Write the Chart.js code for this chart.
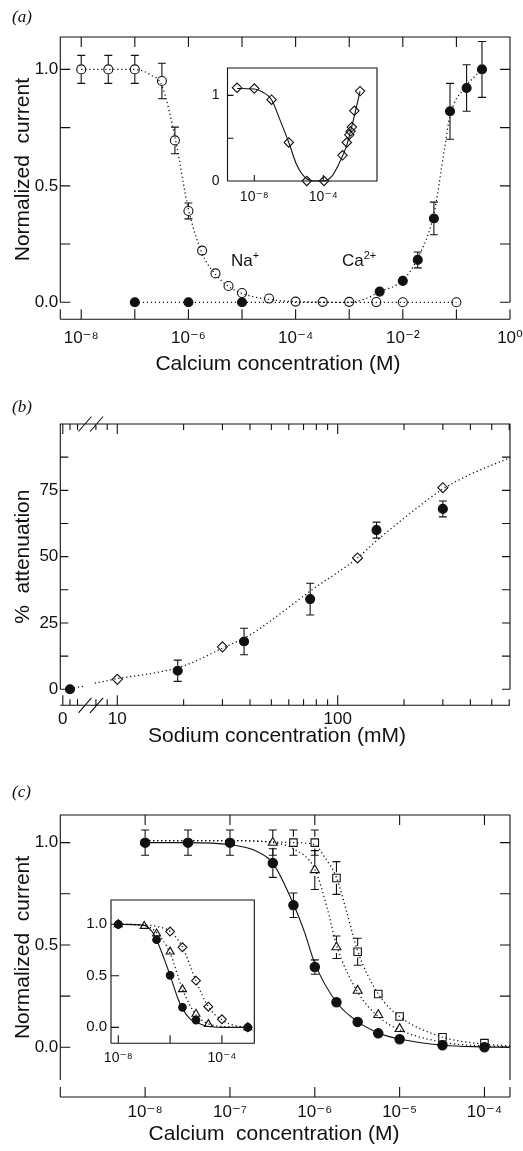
<!DOCTYPE html>
<html>
<head>
<meta charset="utf-8">
<title>Calcium block of sodium current</title>
<script src="https://cdn.jsdelivr.net/npm/chart.js@4.4.1/dist/chart.umd.min.js"></script>
<style>
  html, body { margin: 0; padding: 0; background: #fff; }
  #fig { position: relative; width: 523px; height: 1151px; overflow: hidden; color: #111;
         font-family: "Liberation Sans", Arial, Helvetica, sans-serif; }
  #fig canvas { position: absolute; }
  .tag { position: absolute; left: 12px; font: italic 17px "Liberation Serif", "DejaVu Serif", serif; line-height: 17px; }
  .ion { position: absolute; font-size: 17px; line-height: 17px; white-space: nowrap; }
  .ion sup { font-size: 11px; line-height: 0; vertical-align: 7px; }
  .xtitle { position: absolute; width: 320px; text-align: center; font-size: 21px; line-height: 21px; white-space: pre; }
</style>
</head>
<body>
<div id="fig">
  <canvas id="chartA" width="523" height="380" style="left:0;top:0"></canvas>
  <canvas id="chartB" width="523" height="370" style="left:0;top:380px"></canvas>
  <canvas id="chartC" width="523" height="401" style="left:0;top:750px"></canvas>
  <canvas id="insetA" width="195" height="155" style="left:190px;top:60px"></canvas>
  <canvas id="insetC" width="195" height="185" style="left:70px;top:890px"></canvas>
  <div class="tag" style="top:8px">(a)</div>
  <div class="tag" style="top:398px">(b)</div>
  <div class="tag" style="top:783px">(c)</div>
  <div class="ion" style="left:231px;top:252px">Na<sup>+</sup></div>
  <div class="ion" style="left:342px;top:252px">Ca<sup>2+</sup></div>
  <div class="xtitle" style="left:118px;top:352px">Calcium concentration (M)</div>
  <div class="xtitle" style="left:117px;top:724px">Sodium concentration (mM)</div>
  <div class="xtitle" style="left:114px;top:1122px">Calcium  concentration (M)</div>
</div>
<script>
const INK = '#111';
const SANS = '"Liberation Sans", Arial, Helvetica, "DejaVu Sans", sans-serif';

// ---- (a) Na+ current vs Ca (open) and Ca2+ current (filled) ----
const naConc    = [1e-8, 3.2e-8, 1e-7, 3.2e-7, 5.6e-7, 1e-6, 1.8e-6, 3.2e-6, 5.6e-6, 1e-5, 3.2e-5, 1e-4, 3.2e-4, 1e-3, 3.2e-3, 1e-2, 1e-1];
const naCurrent = [1.0, 1.0, 1.0, 0.95, 0.695, 0.392, 0.222, 0.124, 0.07, 0.04, 0.016, 0.003, 0.002, 0.002, 0.001, 0.0, 0.0];
const naError   = [0.06, 0.06, 0.06, 0.076, 0.057, 0.034, 0, 0, 0, 0, 0, 0, 0, 0, 0, 0, 0];
const naFitConc = [1e-8, 1e-7, 2e-7, 3.2e-7, 5.6e-7, 1e-6, 1.8e-6, 3.2e-6, 5.6e-6, 1e-5, 3.2e-5, 1e-4, 1e-3, 1e-1];
const naFitCurrent = [1.0, 1.0, 0.975, 0.93, 0.71, 0.40, 0.21, 0.12, 0.068, 0.038, 0.012, 0.003, 0.0, 0.0];

const caConc    = [1e-7, 1e-6, 1e-5, 3.7e-3, 1e-2, 1.9e-2, 3.8e-2, 7.6e-2, 0.155, 0.3];
const caCurrent = [0, 0, 0, 0.046, 0.092, 0.182, 0.36, 0.82, 0.92, 1.0];
const caError   = [0, 0, 0, 0, 0, 0.034, 0.07, 0.12, 0.1, 0.12];
const caFitConc = [1e-7, 1e-3, 2e-3, 3.7e-3, 1e-2, 1.9e-2, 3.8e-2, 6e-2, 7.6e-2, 0.155, 0.3];
const caFitCurrent = [0, 0, 0.015, 0.045, 0.095, 0.19, 0.38, 0.66, 0.8, 0.93, 1.0];

const aXTicks  = [4.07e-9, 1e-8, 1e-7, 1e-6, 1e-5, 1e-4, 1e-3, 1e-2, 1e-1, 1];
const aXLabels = ['', '10⁻⁸', '', '10⁻⁶', '', '10⁻⁴', '', '10⁻²', '', '10⁰'];
const aYTicks  = [0, 0.25, 0.5, 0.75, 1.0];
const aYLabels = ['0.0', '', '0.5', '', '1.0'];

// inset of (a)
const insetConc    = [1e-9, 1e-8, 1e-7, 1e-6, 1.1e-5, 1.1e-4, 1.3e-3, 2.3e-3, 3.2e-3, 3.8e-3, 4.5e-3, 6.3e-3, 1.35e-2];
const insetCurrent = [1.09, 1.08, 0.95, 0.45, 0, 0, 0.3, 0.45, 0.54, 0.58, 0.63, 0.82, 1.05];
const insetFitConc    = [1e-9, 1e-8, 3e-8, 1e-7, 3e-7, 1e-6, 3e-6, 1e-5, 3e-5, 1e-4, 3e-4, 1e-3, 2.3e-3, 4e-3, 7e-3, 1.35e-2];
const insetFitCurrent = [1.08, 1.075, 1.04, 0.95, 0.72, 0.45, 0.18, 0.03, 0, 0, 0.05, 0.24, 0.42, 0.6, 0.8, 1.05];
const iaXTicks  = [1e-8, 1e-4];
const iaXLabels = ['10⁻⁸', '10⁻⁴'];
const iaYTicks  = [0, 0.5, 1];
const iaYLabels = ['0', '', '1'];

// ---- (b) attenuation vs sodium ----
const ZERO_AT = 6.1;   // where "0 mM" sits left of the axis break
const bConc   = [ZERO_AT, 18.8, 37.6, 75, 150, 300];
const bAtten  = [0, 7, 18, 34, 60, 68];
const bError  = [0, 4, 5, 6, 3, 3];
const bDiaConc  = [10, 30, 123, 300];
const bDiaAtten = [3.75, 16, 49.5, 76];
const bFit1Conc  = [ZERO_AT, 7.1];
const bFit1Atten = [0.3, 1.2];
const bFit2Conc  = [7.9, 10, 15, 20, 30, 40, 50, 75, 123, 150, 200, 300, 400, 605];
const bFit2Atten = [2.3, 4, 6.3, 8.8, 15.5, 20.5, 26, 37, 49.5, 56, 64.5, 75.5, 81, 87.3];
const bXTicks  = [5.66, ZERO_AT, 6.6, 8, 9, 10, 20, 30, 40, 50, 60, 70, 80, 90, 100, 200, 300, 400, 500, 600];
const bXLabels = ['0', '', '', '', '', '10', '', '', '', '', '', '', '', '', '100', '', '', '', '', ''];
const bYTicks  = [0, 12.5, 25, 37.5, 50, 62.5, 75, 87.5, 100];
const bYLabels = ['0', '', '25', '', '50', '', '75', '', ''];

// ---- (c) three conditions ----
const cConc   = [1e-8, 3.2e-8, 1e-7, 3.2e-7, 5.6e-7, 1e-6, 1.8e-6, 3.2e-6, 5.6e-6, 1e-5, 3.2e-5, 1e-4];
const cFilled = [1.0, 1.0, 1.0, 0.9, 0.694, 0.392, 0.22, 0.124, 0.068, 0.039, 0.01, 0.0];
const cFilledErr = [0.062, 0.062, 0.062, 0.07, 0.06, 0.035, 0, 0, 0, 0, 0, 0];
const cTriConc = [3.2e-7, 1e-6, 1.8e-6, 3.2e-6, 5.6e-6, 1e-5];
const cTri     = [1.0, 0.866, 0.489, 0.277, 0.158, 0.09];
const cTriErr  = [0.062, 0.095, 0.055, 0, 0, 0];
const cSqConc  = [5.6e-7, 1e-6, 1.8e-6, 3.2e-6, 5.6e-6, 1e-5, 3.2e-5, 1e-4];
const cSq      = [1.0, 1.0, 0.827, 0.467, 0.26, 0.15, 0.049, 0.02];
const cSqErr   = [0.062, 0.062, 0.08, 0.066, 0, 0, 0, 0];
const cFilledFitConc = [1e-8, 3.2e-8, 1e-7, 2e-7, 3.2e-7, 5.6e-7, 7.6e-7, 1e-6, 1.8e-6, 3.2e-6, 5.6e-6, 1e-5, 3.2e-5, 1e-4, 2e-4];
const cFilledFit     = [1.0, 1.0, 0.99, 0.96, 0.9, 0.7, 0.56, 0.41, 0.22, 0.125, 0.07, 0.04, 0.01, 0.002, 0.0];
const cTriFitConc = [1e-8, 1e-7, 3.2e-7, 5.6e-7, 1e-6, 1.4e-6, 1.8e-6, 3.2e-6, 5.6e-6, 1e-5, 3.2e-5, 1e-4, 2e-4];
const cTriFit     = [1.01, 1.01, 1.0, 0.97, 0.87, 0.68, 0.5, 0.27, 0.15, 0.085, 0.025, 0.006, 0.003];
const cSqFitConc  = [1e-8, 1e-7, 5.6e-7, 1e-6, 1.3e-6, 1.8e-6, 2.4e-6, 3.2e-6, 5.6e-6, 1e-5, 3.2e-5, 1e-4, 2e-4];
const cSqFit      = [1.01, 1.01, 1.0, 0.99, 0.93, 0.83, 0.655, 0.47, 0.26, 0.15, 0.05, 0.015, 0.007];
const cXTicks  = [1e-9, 1e-8, 1e-7, 1e-6, 1e-5, 1e-4, 2e-4];
const cXLabels = ['', '10⁻⁸', '10⁻⁷', '10⁻⁶', '10⁻⁵', '10⁻⁴', ''];
const cYTicks  = [0, 0.25, 0.5, 0.75, 1.0];
const cYLabels = ['0.0', '', '0.5', '', '1.0'];

// inset of (c)
const icConc  = [1e-8, 3e-7, 1e-6, 3e-6, 1e-5, 1e-3];
const icVal   = [1.0, 0.85, 0.505, 0.194, 0.07, 0.0];
const itConc  = [1e-8, 1e-7, 3e-7, 1e-6, 3e-6, 1e-5, 3e-5, 1e-3];
const itVal   = [1.0, 0.983, 0.91, 0.734, 0.369, 0.13, 0.03, 0.0];
const idConc  = [1e-8, 1e-6, 3e-6, 1e-5, 3e-5, 1e-4, 1e-3];
const idVal   = [1.0, 0.93, 0.777, 0.453, 0.2, 0.078, 0.0];
const icFitConc = [1e-8, 1e-7, 2e-7, 3e-7, 6e-7, 1e-6, 2e-6, 3e-6, 6e-6, 1e-5, 3e-5, 1e-4, 1e-3];
const icFit     = [1.0, 0.99, 0.93, 0.85, 0.66, 0.505, 0.28, 0.18, 0.08, 0.05, 0.008, 0.0, 0.0];
const itFitConc = [1e-8, 1e-7, 3e-7, 1e-6, 3e-6, 1e-5, 3e-5, 1e-4, 1e-3];
const itFit     = [1.0, 0.99, 0.92, 0.72, 0.37, 0.12, 0.035, 0.008, 0.0];
const idFitConc = [1e-8, 1e-7, 3e-7, 1e-6, 3e-6, 1e-5, 3e-5, 1e-4, 3e-4, 1e-3];
const idFit     = [1.0, 0.995, 0.98, 0.93, 0.78, 0.45, 0.2, 0.07, 0.02, 0.0];
const icXTicks  = [1e-8, 1e-6, 1e-4];
const icXLabels = ['10⁻⁸', '', '10⁻⁴'];
const icYTicks  = [0, 0.5, 1.0];
const icYLabels = ['0.0', '0.5', '1.0'];

// ---------- helpers ----------
function pts(xs, ys) { return xs.map((x, i) => ({ x, y: ys[i] })); }

function markers(xs, ys, style, extra) {
  return Object.assign({
    data: pts(xs, ys), showLine: false, pointStyle: style, pointRadius: 4.5,
    pointBorderWidth: 1.1, pointBorderColor: INK, pointBackgroundColor: 'rgba(0,0,0,0)',
    pointHoverRadius: 0, clip: false
  }, extra || {});
}

function curve(xs, ys, dotted) {
  return {
    data: pts(xs, ys), showLine: true, pointRadius: 0, pointHoverRadius: 0,
    borderColor: INK, borderWidth: dotted ? 1.3 : 1.1, borderDash: dotted ? [1.2, 2.8] : [],
    cubicInterpolationMode: 'monotone', fill: false, clip: false
  };
}

function xAxis(type, min, max, ticks, labels, height, o) {
  return {
    type, position: 'bottom', min, max,
    afterBuildTicks: s => { s.ticks = ticks.map(v => ({ value: v })); },
    afterFit: s => { s.height = height; s.paddingLeft = 0; s.paddingRight = 0; },
    grid: { display: false, drawTicks: false }, border: { display: false },
    ticks: { autoSkip: false, maxRotation: 0, minRotation: 0, color: INK, padding: o.pad,
             font: { family: SANS, size: o.size }, callback: (v, i) => labels[i] }
  };
}

function yAxis(min, max, ticks, labels, width, o) {
  return {
    type: 'linear', position: 'left', min, max,
    afterBuildTicks: s => { s.ticks = ticks.map(v => ({ value: v })); },
    afterFit: s => { s.width = width; s.paddingTop = 0; s.paddingBottom = 0; },
    grid: { display: false, drawTicks: false }, border: { display: false },
    ticks: { color: INK, padding: o.pad, font: { family: SANS, size: o.size }, callback: (v, i) => labels[i] },
    title: o.title ? { display: true, text: o.title, color: INK, font: { family: SANS, size: 21 },
                       padding: { top: o.titlePad, bottom: 0 } } : { display: false }
  };
}

function options(pad, x, y) {
  return {
    responsive: false, animation: false, devicePixelRatio: 1, events: [],
    layout: { padding: Object.assign({ left: 0, right: 0, top: 0, bottom: 0 }, pad) },
    plugins: { legend: { display: false }, tooltip: { enabled: false } },
    scales: { x, y }
  };
}

const errorBars = {
  id: 'errorBars',
  afterDatasetsDraw(chart) {
    const { ctx } = chart;
    const ys = chart.scales.y;
    chart.data.datasets.forEach((ds, i) => {
      if (!ds.errors) return;
      const meta = chart.getDatasetMeta(i);
      ctx.save();
      ctx.strokeStyle = INK;
      ctx.lineWidth = 1.1;
      ctx.beginPath();
      meta.data.forEach((p, j) => {
        const e = ds.errors[j];
        if (!e) return;
        const v = ds.data[j].y;
        const hi = ys.getPixelForValue(v + e), lo = ys.getPixelForValue(v - e);
        const r = ds.pointRadius + 0.5;
        if (p.y - hi > r) { ctx.moveTo(p.x, p.y - r); ctx.lineTo(p.x, hi); }
        if (lo - p.y > r) { ctx.moveTo(p.x, p.y + r); ctx.lineTo(p.x, lo); }
        ctx.moveTo(p.x - 4, hi); ctx.lineTo(p.x + 4, hi);
        ctx.moveTo(p.x - 4, lo); ctx.lineTo(p.x + 4, lo);
      });
      ctx.stroke();
      ctx.restore();
    });
  }
};

// spines, inward ticks, detached bottom axis, optional axis break
function frame(o) {
  return {
    id: 'frame',
    beforeDraw(chart) {
      if (!o.boxed) return;
      const { ctx, chartArea: a } = chart;
      ctx.save();
      ctx.fillStyle = '#fff';
      ctx.fillRect(a.left, a.top, a.right - a.left, a.bottom - a.top);
      ctx.restore();
    },
    afterDraw(chart) {
      const { ctx, chartArea: a, scales: { x, y } } = chart;
      ctx.save();
      ctx.strokeStyle = INK;
      ctx.lineWidth = 1.1;
      ctx.beginPath();
      ctx.moveTo(a.left, a.bottom); ctx.lineTo(a.left, a.top);
      ctx.lineTo(a.right, a.top); ctx.lineTo(a.right, a.bottom);
      if (o.boxed) ctx.lineTo(a.left, a.bottom);
      y.ticks.forEach(t => {
        const py = y.getPixelForValue(t.value);
        ctx.moveTo(a.left, py); ctx.lineTo(a.left + o.yLen, py);
        if (!o.boxed) { ctx.moveTo(a.right, py); ctx.lineTo(a.right - o.yLen, py); }
      });
      const base = o.boxed ? a.bottom : a.bottom + o.gap + o.xLen;
      if (!o.boxed) { ctx.moveTo(a.left, base); ctx.lineTo(a.right, base); }
      x.ticks.forEach(t => {
        const px = x.getPixelForValue(t.value);
        const len = (o.xMinorLen && !t.label) ? o.xMinorLen : o.xLen;
        ctx.moveTo(px, base); ctx.lineTo(px, base - len);
        if (!o.boxed) { ctx.moveTo(px, a.top); ctx.lineTo(px, a.top + len); }
      });
      if (o.breakAt) {
        const cx = x.getPixelForValue(o.breakAt);
        [a.top, base].forEach(yy => {
          [-5.8, 5.8].forEach(dx => {
            ctx.moveTo(cx + dx - 6.5, yy + 7.5); ctx.lineTo(cx + dx + 6.5, yy - 7.5);
          });
        });
      }
      ctx.stroke();
      ctx.restore();
    }
  };
}

// ---------- (a) ----------
new Chart(document.getElementById('chartA'), {
  type: 'scatter',
  data: { datasets: [
    markers(caConc, caCurrent, 'circle', { pointBackgroundColor: INK, errors: caError }),
    markers(naConc, naCurrent, 'circle', { errors: naError }),
    curve(caFitConc, caFitCurrent, true),
    curve(naFitConc, naFitCurrent, true)
  ] },
  options: options({ top: 37, right: 13 },
    xAxis('logarithmic', 4.07e-9, 1, aXTicks, aXLabels, 380 - 302.3, { pad: 26, size: 17 }),
    yAxis(0, 1.139, aYTicks, aYLabels, 60.3, { pad: 2, size: 17, title: 'Normalized  current', titlePad: 11 })),
  plugins: [errorBars, frame({ yLen: 10, xLen: 10, gap: 7 })]
});

new Chart(document.getElementById('insetA'), {
  type: 'scatter',
  data: { datasets: [
    markers(insetConc, insetCurrent, 'rectRot', { pointRadius: 4.7 }),
    curve(insetFitConc, insetFitCurrent, false)
  ] },
  options: options({ top: 8, right: 8 },
    xAxis('logarithmic', Math.pow(10, -9.554), Math.pow(10, -0.887), iaXTicks, iaXLabels, 34, { pad: 8, size: 14 }),
    yAxis(0, 1.32, iaYTicks, iaYLabels, 37.5, { pad: 8, size: 14 })),
  plugins: [frame({ boxed: true, yLen: 6, xLen: 6 })]
});

// ---------- (b) ----------
new Chart(document.getElementById('chartB'), {
  type: 'scatter',
  data: { datasets: [
    markers(bConc, bAtten, 'circle', { pointBackgroundColor: INK, errors: bError }),
    markers(bDiaConc, bDiaAtten, 'rectRot', { pointRadius: 5 }),
    curve(bFit1Conc, bFit1Atten, true),
    curve(bFit2Conc, bFit2Atten, true)
  ] },
  options: options({ top: 44, right: 13 },
    xAxis('logarithmic', 5.514, 605, bXTicks, bXLabels, 370 - 309.3, { pad: 20, size: 17 }),
    yAxis(0, 100, bYTicks, bYLabels, 60.3, { pad: 2, size: 17, title: '%  attenuation', titlePad: 11 })),
  plugins: [errorBars, frame({ yLen: 8, xLen: 10, xMinorLen: 6, gap: 6, breakAt: 7.58 })]
});

// ---------- (c) ----------
new Chart(document.getElementById('chartC'), {
  type: 'scatter',
  data: { datasets: [
    markers(cConc, cFilled, 'circle', { pointBackgroundColor: INK, pointRadius: 4.7, errors: cFilledErr }),
    markers(cTriConc, cTri, 'triangle', { pointRadius: 5.2, errors: cTriErr }),
    markers(cSqConc, cSq, 'rect', { pointRadius: 5.3, errors: cSqErr }),
    curve(cFilledFitConc, cFilledFit, false),
    curve(cTriFitConc, cTriFit, true),
    curve(cSqFitConc, cSqFit, true)
  ] },
  options: options({ top: 65, right: 13 },
    xAxis('logarithmic', 1e-9, 2e-4, cXTicks, cXLabels, 401 - 330, { pad: 22, size: 17 }),
    yAxis(-0.16, 1.135, cYTicks, cYLabels, 60.3, { pad: 2, size: 17, title: 'Normalized  current', titlePad: 11 })),
  plugins: [errorBars, frame({ yLen: 10, xLen: 10, gap: 7 })]
});

new Chart(document.getElementById('insetC'), {
  type: 'scatter',
  data: { datasets: [
    markers(icConc, icVal, 'circle', { pointBackgroundColor: INK, pointRadius: 3.8 }),
    markers(itConc, itVal, 'triangle', { pointRadius: 4.6 }),
    markers(idConc, idVal, 'rectRot', { pointRadius: 4.4 }),
    curve(icFitConc, icFit, false),
    curve(itFitConc, itFit, true),
    curve(idFitConc, idFit, true)
  ] },
  options: options({ top: 10, right: 10.7 },
    xAxis('logarithmic', Math.pow(10, -8.282), Math.pow(10, -2.749), icXTicks, icXLabels, 31.7, { pad: 6, size: 14 }),
    yAxis(-0.155, 1.236, icYTicks, icYLabels, 41, { pad: 4, size: 15 })),
  plugins: [frame({ boxed: true, yLen: 8, xLen: 8 })]
});
</script>
</body>
</html>
